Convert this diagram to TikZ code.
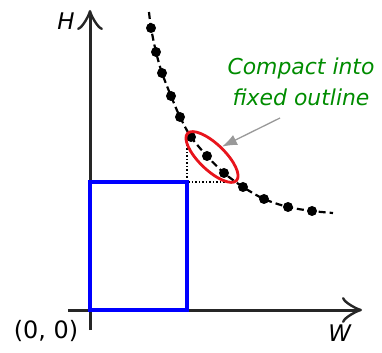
\documentclass[tikz,border=0pt]{standalone}
\usepackage{fontspec}
\setmainfont{DejaVu Sans}
\usepackage{tikz}
\usetikzlibrary{arrows.meta,shapes.geometric}
\definecolor{rectblue}{HTML}{0000FF}
\definecolor{notegreen}{HTML}{008C00}
\definecolor{ringred}{HTML}{E8141C}
\definecolor{pointergray}{HTML}{999999}

\begin{document}
\begin{tikzpicture}[x=0.3528cm,y=0.3528cm,
    axis/.style={line width=3bp,black!85,-{Classical TikZ Rightarrow[length=20bp,width=26bp]}},
    lbl/.style={font=\fontsize{23}{27}\selectfont}]
  \useasboundingbox (-9,-4.2) rectangle (29.2,31);
  % axes
  \draw[axis] (0,-2) -- (0,30);
  \draw[axis] (-2.2,0) -- (27.2,0);
  \node[lbl] (hlab) at (-2.4,28.9) {\textit{H}};
  \node[lbl] (wlab) at (25.0,-2.3) {\textit{W}};
  \node[font=\fontsize{24}{28}\selectfont] (orig) at (-4.4,-2.1) {(0, 0)};
  % fixed outline
  \coordinate (corner) at (9.7,12.8);
  \draw[dotted,line width=1.5bp] (9.7,17.2) -- (corner) -- (14.3,12.8);
  \draw[rectblue,line width=3.2bp] (0,0) rectangle (corner);
  % W-H curve
  \draw[dashed,dash pattern=on 7bp off 4bp,line width=2.2bp] plot[smooth] coordinates {
    (5.9,29.8) (6.1,28.2) (6.6,25.8) (7.2,23.7) (8.1,21.4) (9.0,19.3) (10.1,17.3)
    (11.7,15.4) (13.4,13.7) (15.3,12.3) (17.4,11.1) (19.8,10.3) (22.2,9.9) (24.3,9.7)};
  \foreach \p in {(6.1,28.2),(6.6,25.8),(7.2,23.7),(8.1,21.4),(9.0,19.3),(10.1,17.3),
    (11.7,15.4),(13.4,13.7),(15.3,12.3),(17.4,11.1),(19.8,10.3),(22.2,9.9)}
    \fill \p circle (0.5);
  % compaction
  \node[draw=ringred,line width=2.8bp,ellipse,minimum width=68bp,minimum height=26bp,
    rotate=-44] (ring) at (12.2,15.3) {};
  \node[font=\fontsize{22}{31}\selectfont\itshape,notegreen,align=center] (note)
    at (21.1,22.85) {Compact into\\fixed outline};
  \coordinate (tail) at (19.0,19.2);
  \draw[pointergray,line width=1.3bp,-{Latex[length=15bp,width=11bp]}] (tail) -- (ring.north);
\end{tikzpicture}
\end{document}
